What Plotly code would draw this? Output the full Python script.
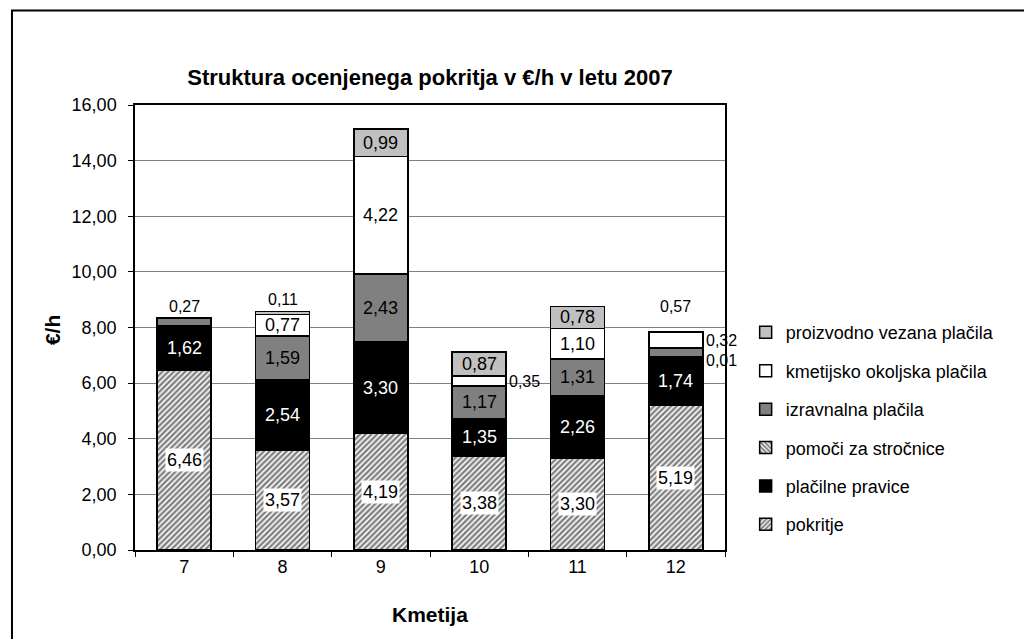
import plotly.graph_objects as go

categories = ["7", "8", "9", "10", "11", "12"]
pokritje = [6.46, 3.57, 4.19, 3.38, 3.30, 5.19]
placilne_pravice = [1.62, 2.54, 3.30, 1.35, 2.26, 1.74]
pomoci_strocnice = [0.0, 0.0, 0.0, 0.0, 0.0, 0.01]
izravnalna = [0.27, 1.59, 2.43, 1.17, 1.31, 0.32]
kmetijsko_okoljska = [0.0, 0.77, 4.22, 0.35, 1.10, 0.57]
proizvodno_vezana = [0.0, 0.11, 0.99, 0.87, 0.78, 0.0]

series_names = ["pokritje", "plačilne pravice", "pomoči za stročnice",
                "izravnalna plačila", "kmetijsko okoljska plačila",
                "proizvodno vezana plačila"]
series_values = [pokritje, placilne_pravice, pomoci_strocnice,
                 izravnalna, kmetijsko_okoljska, proizvodno_vezana]

FONT = "Liberation Sans, Arial, sans-serif"

styles = [
    dict(color="white", pattern=dict(shape="/", fgcolor="black", bgcolor="white", size=4, solidity=0.6)),
    dict(color="black"),
    dict(color="white", pattern=dict(shape="\\", fgcolor="black", bgcolor="white", size=4, solidity=0.6)),
    dict(color="#808080"),
    dict(color="white"),
    dict(color="#C0C0C0"),
]
text_colors = ["black", "white", "black", "black", "black", "black"]

# placement overrides for small segments: (series index, category index) -> (mode, xshift, yshift)
outside = {
    (3, 0): ("above", 0, 0),
    (5, 1): ("above", 0, 0),
    (4, 3): ("right", 0, 0),
    (2, 5): ("right", 0, -3),
    (3, 5): ("right", 0, 12),
    (4, 5): ("above", 0, 14),
}

fig = go.Figure()
n = len(series_names)
for i, (name, vals) in enumerate(zip(series_names, series_values)):
    st = styles[i]
    marker = dict(color=st["color"], line=dict(color="black", width=1.5))
    if "pattern" in st:
        marker["pattern"] = st["pattern"]
    fig.add_trace(go.Bar(
        x=categories, y=vals, name=name, marker=marker,
        legendgroup=name, legendrank=n - i, hoverinfo="skip",
    ))

annotations = []
cum = [0.0] * len(categories)
totals = [sum(s[j] for s in series_values) for j in range(len(categories))]
for i, vals in enumerate(series_values):
    for j, v in enumerate(vals):
        if v <= 0:
            continue
        lab = f"{v:.2f}".replace(".", ",")
        mid = cum[j] + v / 2
        key = (i, j)
        if key in outside:
            mode, dx, dy = outside[key]
            if mode == "above":
                annotations.append(dict(x=j, y=totals[j], text=lab, showarrow=False,
                                        xanchor="center", yanchor="bottom", yshift=1 + dy, xshift=dx,
                                        font=dict(family=FONT, size=16, color="black")))
            else:
                annotations.append(dict(x=j, y=mid, text=lab, showarrow=False,
                                        xanchor="left", xshift=28, yshift=dy,
                                        font=dict(family=FONT, size=16, color="black")))
        else:
            a = dict(x=j, y=mid, text=lab, showarrow=False, xanchor="center",
                     font=dict(family=FONT, size=18, color=text_colors[i]))
            if i == 0:
                a.update(bgcolor="white", borderpad=1)
            annotations.append(a)
        cum[j] += v

# axis titles
annotations.append(dict(xref="paper", yref="paper", x=(44 - 127) / 590, y=(542.3 - 327) / 435.7,
                        text="<b>€/h</b>", textangle=-90, showarrow=False,
                        xanchor="center", yanchor="middle",
                        font=dict(family=FONT, size=21, color="black")))
annotations.append(dict(xref="paper", yref="paper", x=(422 - 127) / 590, y=(542.3 - 605) / 435.7,
                        text="<b>Kmetija</b>", showarrow=False, xanchor="center", yanchor="middle",
                        font=dict(family=FONT, size=21, color="black")))

fig.update_layout(
    width=1032, height=639,
    margin=dict(l=127, r=315, t=97, b=97),
    barmode="stack", bargap=0.45,
    separators=", ",
    paper_bgcolor="white", plot_bgcolor="white",
    font=dict(family=FONT, size=18, color="black"),
    title=dict(text="<b>Struktura ocenjenega pokritja v €/h v letu 2007</b>",
               x=422 / 1032, xref="container", y=1 - 69 / 639, yref="container",
               xanchor="center", yanchor="middle",
               font=dict(family=FONT, size=22, color="black")),
    xaxis=dict(type="category", range=[-0.5, 5.5], showline=True, linecolor="black", linewidth=1.5,
               mirror=True, ticks="outside", tickson="boundaries", ticklen=5, tickcolor="black",
               tickfont=dict(family=FONT, size=18), showgrid=False),
    yaxis=dict(range=[0, 16], dtick=2, tickformat=".2f", showline=True, linecolor="black",
               linewidth=1.5, mirror=True, ticks="outside", ticklen=5, tickcolor="black",
               ticklabelstandoff=8,
               showgrid=True, gridcolor="#808080", gridwidth=1,
               tickfont=dict(family=FONT, size=18), zeroline=False),
    legend=dict(x=1.035, y=0.53, xanchor="left", yanchor="top", traceorder="grouped",
                tracegroupgap=12, font=dict(family=FONT, size=18), bgcolor="rgba(0,0,0,0)"),
    annotations=annotations,
    shapes=[dict(type="rect", xref="paper", yref="paper", x0=-0.2085, x1=1.527,
                 y0=-0.25, y1=1.2125, line=dict(color="black", width=2), layer="below")],
)

fig.write_html("out.html")
